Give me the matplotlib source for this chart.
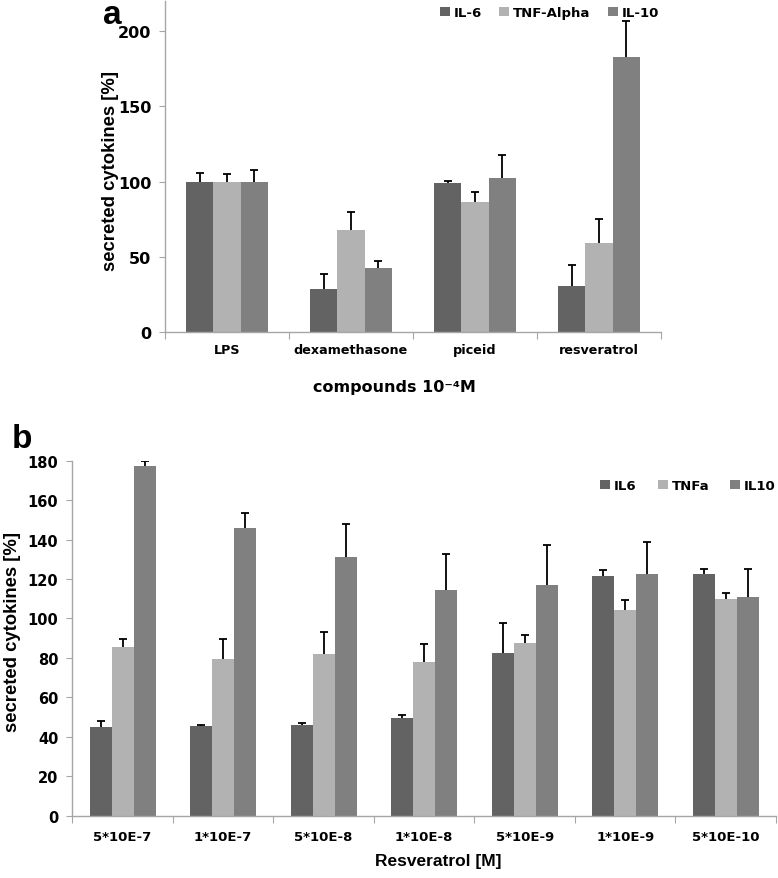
import matplotlib
matplotlib.use("Agg")
import matplotlib.pyplot as plt
import numpy as np

# Panel a data
cats_a = ["LPS", "dexamethasone", "piceid", "resveratrol"]
series_a = ["IL-6", "TNF-Alpha", "IL-10"]
il6_a = [100, 28.6, 98.8, 30.8]
il6_a_err = [6, 10, 1.3, 14]
tnf_a = [100, 67.6, 86.6, 59.3]
tnf_a_err = [5, 12.4, 6.6, 15.6]
il10_a = [100, 42.3, 102.3, 182.9]
il10_a_err = [7.8, 5.1, 15.5, 23.5]
yticks_a = [0, 50, 100, 150, 200]

# Panel b data
cats_b = ["5*10E-7", "1*10E-7", "5*10E-8", "1*10E-8", "5*10E-9", "1*10E-9", "5*10E-10"]
series_b = ["IL6", "TNFa", "IL10"]
il6_b = [44.8, 45.3, 46.0, 49.4, 82.5, 121.7, 122.6]
il6_b_err = [3.4, 0.9, 0.8, 1.8, 15.2, 2.9, 2.5]
tnf_b = [85.4, 79.6, 82.2, 78.1, 87.6, 104.3, 109.9]
tnf_b_err = [4.4, 10.2, 10.8, 8.8, 4.2, 5.2, 3.0]
il10_b = [177.3, 145.9, 131.2, 114.4, 117.1, 122.4, 110.7]
il10_b_err = [2.7, 7.4, 16.6, 18.3, 20.3, 16.4, 14.4]
yticks_b = list(range(0, 181, 20))

colors = ["#636363", "#b2b2b2", "#808080"]
axis_col = "#a6a6a6"
tick_font = dict(family="DejaVu Sans", weight="bold")

fig = plt.figure(figsize=(7.78, 8.79), dpi=100)

def draw(ax, cats, vals, errs, names, ylim, yticks, w, tick_fs, cat_fs, cat_pad):
    x = np.arange(len(cats))
    for i, (v, e, n, c) in enumerate(zip(vals, errs, names, colors)):
        pos = x + (i - 1) * w
        ax.bar(pos, v, width=w, color=c, label=n, zorder=2)
        _, caps, _ = ax.errorbar(pos, v, yerr=[np.zeros(len(e)), e], fmt="none",
                                 ecolor="black", elinewidth=1.3, capsize=3,
                                 capthick=1.3, zorder=3)
        # hide the lower caps (sitting on bar tops)
        for cl in caps:
            yd = np.asarray(cl.get_ydata(), dtype=float)
            if np.allclose(yd, np.asarray(v, dtype=float)):
                cl.set_visible(False)
    ax.set_xlim(-0.5, len(cats) - 0.5)
    ax.set_ylim(*ylim)
    ax.set_yticks(yticks)
    ax.set_yticklabels([str(t) for t in yticks], fontsize=tick_fs, **tick_font)
    ax.set_xticks(np.arange(len(cats) + 1) - 0.5)
    ax.set_xticklabels([])
    ax.set_xticks(x, minor=True)
    ax.set_xticklabels(cats, minor=True, fontsize=cat_fs, **tick_font)
    ax.tick_params(axis="x", which="minor", length=0, pad=cat_pad)
    ax.tick_params(axis="x", which="major", length=5, color=axis_col, direction="out")
    ax.tick_params(axis="y", length=4, color=axis_col, pad=6)
    for s in ["top", "right"]:
        ax.spines[s].set_visible(False)
    for s in ["left", "bottom"]:
        ax.spines[s].set_color(axis_col)
        ax.spines[s].set_linewidth(1.0)

# Panel a
axa = fig.add_axes([165/778, 1 - 333/879, 496/778, 331/879])
draw(axa, cats_a, [il6_a, tnf_a, il10_a], [il6_a_err, tnf_a_err, il10_a_err],
     series_a, (0, 220), yticks_a, 0.218, 11.5, 9.2, 8)
axa.set_ylabel("secreted cytokines [%]", fontsize=13.3, family="Liberation Sans",
               weight="bold")
axa.yaxis.set_label_coords((119 - 165) / 496, 0.49)
axa.set_xlabel("compounds 10\u207b\u2074M", fontsize=11.5, **tick_font)
axa.xaxis.set_label_coords((394 - 165) / 496, (333 - 380) / 331)
axa.legend(loc="center", bbox_to_anchor=(0.775, 0.965), ncol=3, frameon=False,
           handlelength=0.75, handleheight=0.75, handletextpad=0.3, columnspacing=1.3,
           prop=dict(family="DejaVu Sans", weight="bold", size=9.5))
fig.text(112/778, 1 - 16/879, "a", fontsize=24, family="Liberation Sans", weight="bold",
         ha="center", va="center")

# Panel b
axb = fig.add_axes([72.3/778, 1 - 816.7/879, 703.7/778, 355/879])
draw(axb, cats_b, [il6_b, tnf_b, il10_b], [il6_b_err, tnf_b_err, il10_b_err],
     series_b, (0, 180), yticks_b, 0.219, 10.5, 9.5, 10)
axb.set_ylabel("secreted cytokines [%]", fontsize=13.3, family="Liberation Sans",
               weight="bold")
axb.yaxis.set_label_coords((21 - 72.3) / 703.7, 0.52)
axb.set_xlabel("Resveratrol [M]", fontsize=12.5, family="Liberation Sans",
               weight="bold")
axb.xaxis.set_label_coords((438 - 72.3) / 703.7, (816.7 - 854) / 355)
axb.legend(loc="center", bbox_to_anchor=(0.875, 0.93), ncol=3, frameon=False,
           handlelength=0.75, handleheight=0.75, handletextpad=0.3, columnspacing=1.6,
           prop=dict(family="DejaVu Sans", weight="bold", size=9.5))
fig.text(22/778, 1 - 440/879, "b", fontsize=24, family="Liberation Sans", weight="bold",
         ha="center", va="center")

fig.savefig("out.png", dpi=100)
